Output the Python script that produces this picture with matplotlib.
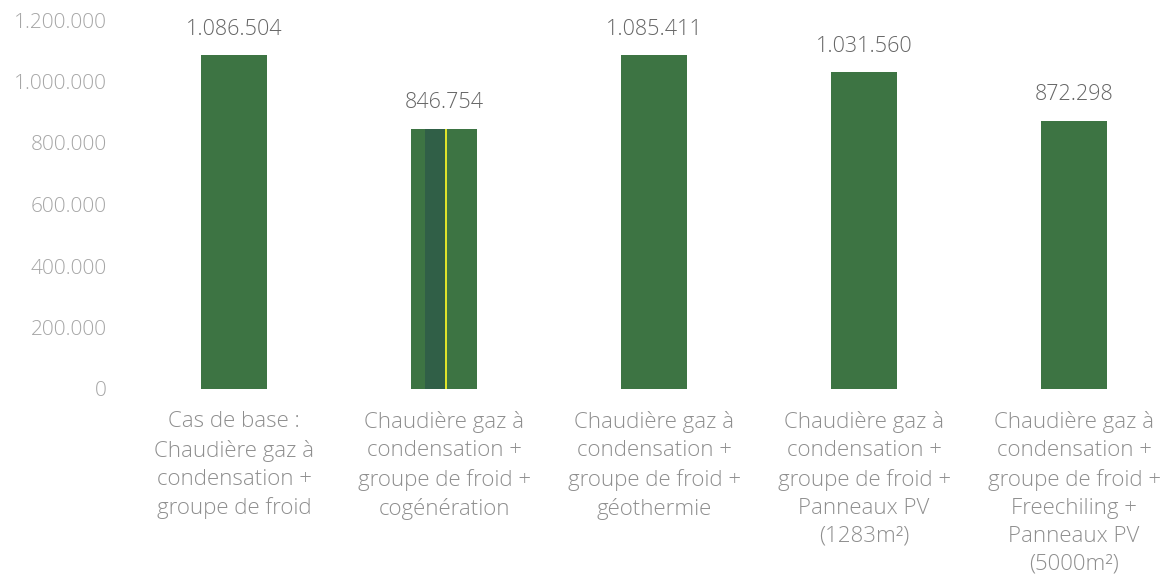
import matplotlib.pyplot as plt
from matplotlib.ticker import FuncFormatter

categories = [
    "Cas de base :\nChaudière gaz à\ncondensation +\ngroupe de froid",
    "Chaudière gaz à\ncondensation +\ngroupe de froid +\ncogénération",
    "Chaudière gaz à\ncondensation +\ngroupe de froid +\ngéothermie",
    "Chaudière gaz à\ncondensation +\ngroupe de froid +\nPanneaux PV\n(1283m²)",
    "Chaudière gaz à\ncondensation +\ngroupe de froid +\nFreechiling +\nPanneaux PV\n(5000m²)",
]
values = [1086504, 846754, 1085411, 1031560, 872298]
yticks = [0, 200000, 400000, 600000, 800000, 1000000, 1200000]

plt.rcParams['font.family'] = ['Open Sans', 'DejaVu Sans']
plt.rcParams['font.weight'] = 'light'


def dotted(v, pos=None):
    # thousands separated with dots
    return f"{int(v):,}".replace(",", ".")


fig = plt.figure(figsize=(11.68, 5.77), dpi=100)
ax = fig.add_axes([129 / 1168, 188 / 577, 1050 / 1168, 369 / 577])

x = range(len(values))
ax.bar(x, values, width=0.31, color='#3d7443', zorder=2)

# darker band and thin yellow streak on the cogeneration bar
ax.bar(1 - 0.045, values[1], width=0.095, color='#305f47', zorder=2.5)
ax.vlines(1.01, 0, values[1], color='#e4e82a', linewidth=1.4, zorder=3)

for xi, v in zip(x, values):
    ax.annotate(dotted(v), (xi, v), xytext=(0, 11), textcoords='offset points',
                ha='center', va='bottom', fontsize=15.5, color='#666666')

ax.set_xlim(-0.5, 4.5)
ax.set_ylim(0, 1200000)
ax.set_yticks(yticks)
ax.yaxis.set_major_formatter(FuncFormatter(dotted))
ax.set_xticks(list(x))
ax.set_xticklabels(categories, fontsize=16, color='#8e8e8e', linespacing=1.44, va='top')

ax.tick_params(axis='y', length=0, labelsize=15, labelcolor='#a6a6a6', pad=16)
ax.tick_params(axis='x', length=0, pad=16)
for s in ax.spines.values():
    s.set_visible(False)

fig.savefig('out.png', dpi=100)
